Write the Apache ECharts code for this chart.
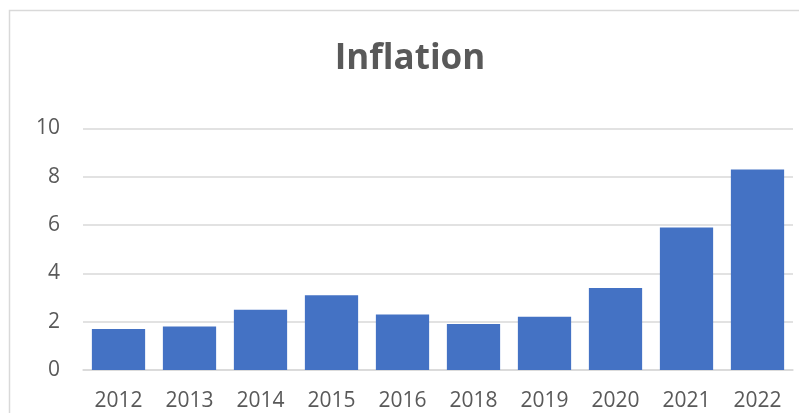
<!DOCTYPE html>
<html>
<head>
<meta charset="utf-8">
<script src="https://cdn.jsdelivr.net/npm/echarts@6/dist/echarts.min.js"></script>
<style>
html,body{margin:0;padding:0;background:#fff;}
#chart{width:799px;height:413px;}
</style>
</head>
<body>
<div id="chart"></div>
<script>
const titleText = 'Inflation';
const categories = ['2012','2013','2014','2015','2016','2018','2019','2020','2021','2022'];
const inflationValues = [1.7, 1.8, 2.5, 3.1, 2.3, 1.9, 2.2, 3.4, 5.9, 8.3];
const yTicks = [0, 2, 4, 6, 8, 10];

const chart = echarts.init(document.getElementById('chart'), null, {renderer: 'canvas'});
const font = '"Open Sans", "Liberation Sans", sans-serif';
chart.setOption({
  animation: false,
  graphic: [
    {type: 'rect', shape: {x: 9.5, y: 10.5, width: 820, height: 430}, style: {fill: 'none', stroke: '#d9d9d9', lineWidth: 1.5}, silent: true, z: -10},
    {type: 'text', x: 410, y: 59, style: {text: titleText, fontFamily: font, fontWeight: 'bold', fontSize: 35, fill: '#595959', textAlign: 'center', textVerticalAlign: 'middle'}}
  ],
  grid: {left: 83, right: 6, top: 128.5, bottom: 43, containLabel: false},
  xAxis: {
    type: 'category',
    data: categories,
    axisLine: {show: true, lineStyle: {color: '#d9d9d9', width: 1.5}},
    axisTick: {show: false},
    axisLabel: {color: '#595959', fontFamily: font, fontSize: 21, margin: 21}
  },
  yAxis: {
    type: 'value',
    min: yTicks[0],
    max: yTicks[yTicks.length - 1],
    interval: 2,
    axisLine: {show: false},
    axisTick: {show: false},
    splitLine: {lineStyle: {color: '#d9d9d9', width: 1.5}},
    axisLabel: {color: '#595959', fontFamily: font, fontSize: 21, margin: 23}
  },
  series: [{
    type: 'bar',
    data: inflationValues,
    barCategoryGap: '25%',
    itemStyle: {color: '#4472C4'}
  }]
});
</script>
</body>
</html>
